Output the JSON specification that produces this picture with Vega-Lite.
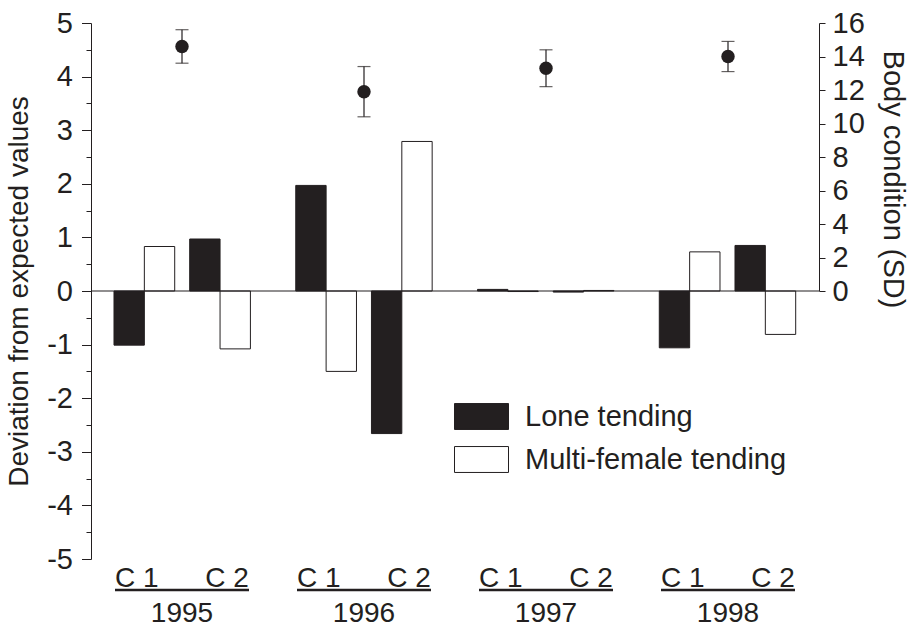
{
  "$schema": "https://vega.github.io/schema/vega-lite/v6.json",
  "width": 728,
  "height": 536,
  "autosize": {"type": "none"},
  "padding": {"left": 91, "top": 23, "right": 94, "bottom": 68},
  "background": "white",
  "config": {
    "view": {"stroke": null},
    "font": "Liberation Sans",
    "axis": {
      "labelFont": "Liberation Sans",
      "titleFont": "Liberation Sans",
      "labelColor": "#231f20",
      "titleColor": "#231f20",
      "domainColor": "#231f20",
      "tickColor": "#231f20",
      "titleFontWeight": "normal",
      "grid": false,
      "labelFontSize": 29,
      "titleFontSize": 28.5
    }
  },
  "datasets": {
    "dev": [
      {"year": "1995", "cohort": "C1", "type": "Lone tending", "deviation": -1.01},
      {"year": "1995", "cohort": "C1", "type": "Multi-female tending", "deviation": 0.83},
      {"year": "1995", "cohort": "C2", "type": "Lone tending", "deviation": 0.97},
      {"year": "1995", "cohort": "C2", "type": "Multi-female tending", "deviation": -1.08},
      {"year": "1996", "cohort": "C1", "type": "Lone tending", "deviation": 1.97},
      {"year": "1996", "cohort": "C1", "type": "Multi-female tending", "deviation": -1.5},
      {"year": "1996", "cohort": "C2", "type": "Lone tending", "deviation": -2.66},
      {"year": "1996", "cohort": "C2", "type": "Multi-female tending", "deviation": 2.79},
      {"year": "1997", "cohort": "C1", "type": "Lone tending", "deviation": 0.03},
      {"year": "1997", "cohort": "C1", "type": "Multi-female tending", "deviation": -0.01},
      {"year": "1997", "cohort": "C2", "type": "Lone tending", "deviation": -0.02},
      {"year": "1997", "cohort": "C2", "type": "Multi-female tending", "deviation": 0.01},
      {"year": "1998", "cohort": "C1", "type": "Lone tending", "deviation": -1.06},
      {"year": "1998", "cohort": "C1", "type": "Multi-female tending", "deviation": 0.73},
      {"year": "1998", "cohort": "C2", "type": "Lone tending", "deviation": 0.85},
      {"year": "1998", "cohort": "C2", "type": "Multi-female tending", "deviation": -0.81}
    ],
    "bc": [
      {"year": "1995", "bc": 14.6, "lo": 13.6, "hi": 15.6},
      {"year": "1996", "bc": 11.9, "lo": 10.4, "hi": 13.4},
      {"year": "1997", "bc": 13.3, "lo": 12.2, "hi": 14.4},
      {"year": "1998", "bc": 14.0, "lo": 13.1, "hi": 14.9}
    ]
  },
  "resolve": {
    "scale": {"x": "independent", "y": "independent", "xOffset": "independent"},
    "axis": {"x": "independent", "y": "independent"}
  },
  "layer": [
    {
      "data": {"name": "dev"},
      "transform": [{"filter": "datum.cohort === 'C1'"}],
      "mark": {"type": "bar", "stroke": "#231f20", "strokeWidth": 1},
      "encoding": {
        "x": {"field": "year", "type": "nominal", "scale": {"paddingInner": 0.666, "paddingOuter": 0.3356, "align": 0.1885}, "axis": null},
        "xOffset": {"field": "type", "type": "nominal", "scale": {"domain": ["Lone tending", "Multi-female tending"], "paddingInner": 0, "paddingOuter": 0}},
        "y": {
          "field": "deviation", "type": "quantitative",
          "scale": {"domain": [-5, 5], "nice": false, "zero": false},
          "axis": {
            "orient": "left",
            "values": [-5, -4.5, -4, -3.5, -3, -2.5, -2, -1.5, -1, -0.5, 0, 0.5, 1, 1.5, 2, 2.5, 3, 3.5, 4, 4.5, 5],
            "labelExpr": "datum.value % 1 === 0 ? '' + datum.value : ''",
            "tickSize": {"condition": {"test": "datum.value % 1 !== 0", "value": 5}, "value": 9.5},
            "labelPadding": 9,
            "title": "Deviation from expected values",
            "titleFontSize": 28,
            "titlePadding": 13
          }
        },
        "color": {
          "field": "type", "type": "nominal",
          "scale": {"domain": ["Lone tending", "Multi-female tending"], "range": ["#231f20", "#ffffff"]},
          "legend": {
            "title": null,
            "orient": "none",
            "legendX": 363,
            "legendY": 366,
            "symbolType": "M-1,-0.48H1V0.48H-1Z",
            "symbolSize": 2916,
            "symbolStrokeColor": "#231f20",
            "symbolStrokeWidth": 1,
            "symbolOpacity": 1,
            "labelFont": "Liberation Sans",
            "labelFontSize": 29,
            "labelColor": "#231f20",
            "labelOffset": 16,
            "labelLimit": 400,
            "rowPadding": -8
          }
        }
      }
    },
    {
      "data": {"name": "dev"},
      "transform": [{"filter": "datum.cohort === 'C2'"}],
      "mark": {"type": "bar", "stroke": "#231f20", "strokeWidth": 1},
      "encoding": {
        "x": {"field": "year", "type": "nominal", "scale": {"paddingInner": 0.666, "paddingOuter": 0.3356, "align": 0.809}, "axis": null},
        "xOffset": {"field": "type", "type": "nominal", "scale": {"domain": ["Lone tending", "Multi-female tending"], "paddingInner": 0, "paddingOuter": 0}},
        "y": {"field": "deviation", "type": "quantitative", "scale": {"domain": [-5, 5], "nice": false, "zero": false}, "axis": null},
        "color": {"field": "type", "type": "nominal", "scale": {"domain": ["Lone tending", "Multi-female tending"], "range": ["#231f20", "#ffffff"]}}
      }
    },
    {
      "data": {"values": [{}]},
      "mark": {"type": "rule", "color": "#231f20", "strokeWidth": 1.2},
      "encoding": {
        "y": {"datum": 0, "type": "quantitative", "scale": {"domain": [-5, 5], "nice": false, "zero": false}, "axis": null}
      }
    },
    {
      "data": {"name": "bc"},
      "mark": {"type": "tick", "orient": "horizontal", "size": 134, "thickness": 2.5, "color": "#231f20", "opacity": 1},
      "encoding": {
        "x": {"field": "year", "type": "nominal", "scale": {"paddingInner": 0, "paddingOuter": 0}, "axis": null},
        "y": {"datum": -5.58, "type": "quantitative", "scale": {"domain": [-5, 5], "nice": false, "zero": false}, "axis": null}
      }
    },
    {
      "data": {"name": "bc"},
      "mark": {"type": "errorbar", "ticks": true, "size": 13, "thickness": 1.2, "color": "#231f20"},
      "encoding": {
        "x": {
          "field": "year", "type": "nominal",
          "scale": {"paddingInner": 0, "paddingOuter": 0},
          "axis": {
            "orient": "bottom",
            "title": null,
            "domain": false,
            "ticks": false,
            "tickSize": 0,
            "labelAngle": 0,
            "labelFontSize": 28,
            "labelPadding": 5,
            "labelLineHeight": 35,
            "labelExpr": "['C 1\u00a0\u00a0\u00a0\u00a0\u00a0\u00a0C 2', datum.label]"
          }
        },
        "y": {
          "field": "lo", "type": "quantitative",
          "scale": {"domain": [0, 16], "nice": false, "zero": false, "range": [{"expr": "height/2"}, 0]},
          "axis": {
            "orient": "right",
            "values": [0, 2, 4, 6, 8, 10, 12, 14, 16],
            "tickSize": 6,
            "labelPadding": 7,
            "title": "Body condition (SD)",
            "titleFontSize": 29,
            "titlePadding": 13,
            "titleY": 156
          }
        },
        "y2": {"field": "hi"}
      }
    },
    {
      "data": {"name": "bc"},
      "mark": {"type": "point", "filled": true, "size": 180, "color": "#231f20", "opacity": 1},
      "encoding": {
        "x": {"field": "year", "type": "nominal", "scale": {"paddingInner": 0, "paddingOuter": 0}, "axis": null},
        "y": {"field": "bc", "type": "quantitative", "scale": {"domain": [0, 16], "nice": false, "zero": false, "range": [{"expr": "height/2"}, 0]}, "axis": null}
      }
    }
  ]
}
